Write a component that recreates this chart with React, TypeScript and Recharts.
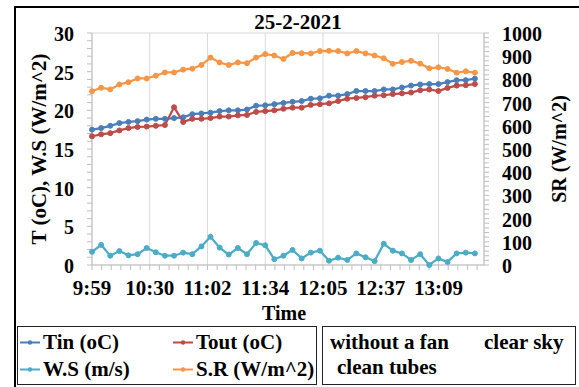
import { CartesianGrid, Legend, Line, LineChart, XAxis, YAxis } from "recharts";

const times = [
  "9:59", "10:04", "10:09", "10:14", "10:19", "10:24", "10:29", "10:34", "10:39", "10:44", "10:49",
  "10:54", "10:59", "11:04", "11:09", "11:14", "11:19", "11:24", "11:29", "11:34", "11:39", "11:44",
  "11:49", "11:54", "11:59", "12:04", "12:09", "12:14", "12:19", "12:24", "12:29", "12:34", "12:39",
  "12:44", "12:49", "12:54", "12:59", "13:04", "13:09", "13:14", "13:19", "13:24", "13:29"
];
const tinValues = [
  17.5, 17.7, 18.0, 18.35, 18.5, 18.6, 18.8, 18.9, 18.9, 19.0, 19.1, 19.5, 19.6, 19.7, 19.9, 20.0, 20.0,
  20.1, 20.6, 20.65, 20.8, 20.95, 21.1, 21.2, 21.5, 21.55, 21.9, 21.9, 22.1, 22.5, 22.5, 22.5, 22.7, 22.7,
  22.95, 23.2, 23.35, 23.4, 23.4, 23.65, 23.9, 23.9, 24.1
];
const toutValues = [
  16.65, 16.9, 17.05, 17.4, 17.7, 17.85, 17.9, 18.0, 18.1, 20.4, 18.5, 18.9, 18.9, 19.0, 19.2, 19.2, 19.35,
  19.4, 19.8, 19.9, 20.0, 20.2, 20.35, 20.35, 20.7, 20.8, 20.9, 21.2, 21.5, 21.6, 21.7, 21.9, 21.95, 22.1,
  22.2, 22.3, 22.6, 22.7, 22.5, 22.9, 23.2, 23.25, 23.4
];
const wsValues = [
  1.7, 2.6, 1.2, 1.8, 1.25, 1.4, 2.2, 1.65, 1.2, 1.2, 1.6, 1.4, 2.4, 3.65, 2.25, 1.35, 2.2, 1.4, 2.85, 2.55,
  0.75, 1.2, 1.95, 0.85, 1.6, 1.85, 0.55, 0.95, 0.65, 1.5, 1.0, 0.5, 2.75, 1.85, 1.5, 0.65, 1.4, 0.0, 0.85,
  0.4, 1.5, 1.6, 1.5
];
const srValues = [
  749, 764, 757, 778, 788, 804, 804, 816, 830, 830, 842, 846, 862, 894, 873, 862, 873, 870, 894, 909, 903,
  888, 914, 913, 912, 922, 923, 922, 912, 922, 912, 903, 891, 867, 875, 880, 868, 848, 852, 845, 829, 835, 829
];
const seriesNames = ["Tin (oC)", "Tout (oC)", "W.S (m/s)", "S.R (W/m^2)"];
const xTickLabels = ["9:59", "10:30", "11:02", "11:34", "12:05", "12:37", "13:09"];
const noteTexts = ["without a fan", "clear sky", "clean tubes"];

const FONT = '"Liberation Serif", "Times New Roman", serif';
const AXIS_GRAY = "#bfbfbf";
const X_MIN = 599;
const X_MAX = 814;
const X_MAJOR = 31.68;
const X_MINOR = X_MAJOR / 6;

const toMinutes = (s: string) => {
  const [h, m] = s.split(":").map(Number);
  return h * 60 + m;
};

const data = times.map((t, i) => ({
  t: toMinutes(t),
  tin: tinValues[i],
  tout: toutValues[i],
  ws: wsValues[i],
  sr: srValues[i]
}));

const xMajorTicks = xTickLabels.map((_, i) => X_MIN + i * X_MAJOR);
const xMinorTicks: number[] = [];
for (let k = 0; X_MIN + k * X_MINOR <= X_MAX; k++) xMinorTicks.push(X_MIN + k * X_MINOR);
const leftMinorTicks = Array.from({ length: 31 }, (_, i) => i);
const leftMajorTicks = [0, 5, 10, 15, 20, 25, 30];
const rightMinorTicks = Array.from({ length: 51 }, (_, i) => i * 20);

const labelStyle = { fontFamily: FONT, fontWeight: "bold" as const, fill: "#000", style: { fontFamily: FONT } };

const XTick = ({ x, y, payload }: any) => {
  const k = Math.round((payload.value - X_MIN) / X_MINOR);
  if (k % 6 !== 0) return <g />;
  return (
    <text x={x} y={y} dy={23} textAnchor="middle" fontSize={21} {...labelStyle}>
      {xTickLabels[k / 6]}
    </text>
  );
};

const LeftTick = ({ x, y, payload }: any) =>
  payload.value % 5 === 0 ? (
    <text x={x - 11} y={y} dy={8} textAnchor="end" fontSize={20} {...labelStyle}>
      {payload.value}
    </text>
  ) : (
    <g />
  );

const RightTick = ({ x, y, payload }: any) =>
  payload.value % 100 === 0 ? (
    <text x={x + 11} y={y} dy={8} textAnchor="start" fontSize={20} {...labelStyle}>
      {payload.value}
    </text>
  ) : (
    <g />
  );

const textBase = {
  position: "absolute" as const,
  fontFamily: FONT,
  fontWeight: "bold" as const,
  color: "#000",
  whiteSpace: "nowrap" as const,
  lineHeight: 1
};

function LegendPanel({ payload }: any) {
  const items = [...(payload || [])].sort(
    (a: any, b: any) => seriesNames.indexOf(a.value) - seriesNames.indexOf(b.value)
  );
  const cols = [2, 155];
  const rows = [15, 42];
  return (
    <div style={{ position: "relative", width: 560, height: 60 }}>
      <div style={{ position: "absolute", left: 0, top: 0, width: 298, height: 57, border: "1.5px solid #222" }}>
        {items.map((it: any, i: number) => (
          <div
            key={it.value}
            style={{ position: "absolute", left: cols[i % 2], top: rows[Math.floor(i / 2)], transform: "translateY(-50%)", display: "flex", alignItems: "center" }}
          >
            <svg width={20} height={8} style={{ marginRight: 3 }}>
              <line x1={0} y1={4} x2={20} y2={4} stroke={it.color} strokeWidth={2} />
              <circle cx={10} cy={4} r={2.2} fill={it.color} />
            </svg>
            <span style={{ ...textBase, position: "static", fontSize: 21 }}>{it.value}</span>
          </div>
        ))}
      </div>
      <div style={{ position: "absolute", left: 305, top: 0, width: 252, height: 57, border: "1.5px solid #222" }}>
        <span style={{ ...textBase, left: 7, top: 15, transform: "translateY(-50%)", fontSize: 21 }}>{noteTexts[0]}</span>
        <span style={{ ...textBase, left: 161, top: 15, transform: "translateY(-50%)", fontSize: 21 }}>{noteTexts[1]}</span>
        <span style={{ ...textBase, left: 14, top: 40, transform: "translateY(-50%)", fontSize: 21 }}>{noteTexts[2]}</span>
      </div>
    </div>
  );
}

export default function App() {
  return (
    <div style={{ position: "absolute", left: 0, top: 0, width: 579, height: 387, overflow: "hidden", background: "#fff" }}>
      <div style={{ position: "absolute", left: 14, top: 6, width: 620, height: 420, borderLeft: "2px solid #000", borderTop: "2px solid #000" }} />
      <div style={{ position: "absolute", left: 0, top: 0 }}>
        <LineChart width={579} height={387} data={data} margin={{ top: 33, right: 0, bottom: 82, left: 0 }}>
          <XAxis xAxisId="xg" dataKey="t" type="number" domain={[X_MIN, X_MAX]} ticks={xMajorTicks} hide />
          <YAxis yAxisId="yg" type="number" domain={[0, 30]} ticks={leftMajorTicks} hide />
          <CartesianGrid xAxisId="xg" yAxisId="yg" stroke="#d9d9d9" strokeWidth={1} />
          <XAxis
            xAxisId="x"
            dataKey="t"
            type="number"
            domain={[X_MIN, X_MAX]}
            ticks={xMinorTicks}
            interval={0}
            height={40}
            tickSize={5}
            tick={<XTick />}
            axisLine={{ stroke: AXIS_GRAY }}
            tickLine={{ stroke: AXIS_GRAY }}
          />
          <YAxis
            yAxisId="left"
            type="number"
            domain={[0, 30]}
            ticks={leftMinorTicks}
            interval={0}
            width={92}
            tickSize={5}
            tick={<LeftTick />}
            axisLine={{ stroke: AXIS_GRAY }}
            tickLine={{ stroke: AXIS_GRAY }}
          />
          <YAxis
            yAxisId="right"
            orientation="right"
            type="number"
            domain={[0, 1000]}
            ticks={rightMinorTicks}
            interval={0}
            width={95}
            tickSize={5}
            tick={<RightTick />}
            axisLine={{ stroke: AXIS_GRAY }}
            tickLine={{ stroke: AXIS_GRAY }}
          />
          <Line xAxisId="x" yAxisId="left" name={seriesNames[0]} dataKey="tin" stroke="#4a7ebb" strokeWidth={2.25}
            dot={{ r: 2.5, fill: "#4a7ebb", stroke: "#4a7ebb", strokeWidth: 1 }} activeDot={false} isAnimationActive={false} />
          <Line xAxisId="x" yAxisId="left" name={seriesNames[1]} dataKey="tout" stroke="#be4b48" strokeWidth={2.25}
            dot={{ r: 2.5, fill: "#be4b48", stroke: "#be4b48", strokeWidth: 1 }} activeDot={false} isAnimationActive={false} />
          <Line xAxisId="x" yAxisId="left" name={seriesNames[2]} dataKey="ws" stroke="#4bacc6" strokeWidth={2.25}
            dot={{ r: 2.5, fill: "#4bacc6", stroke: "#4bacc6", strokeWidth: 1 }} activeDot={false} isAnimationActive={false} />
          <Line xAxisId="x" yAxisId="right" name={seriesNames[3]} dataKey="sr" stroke="#f79646" strokeWidth={2.25}
            dot={{ r: 2.5, fill: "#f79646", stroke: "#f79646", strokeWidth: 1 }} activeDot={false} isAnimationActive={false} />
          <Legend
            verticalAlign="middle"
            layout="horizontal"
            wrapperStyle={{ left: 17, top: 326, width: 560, height: 60 }}
            content={(props: any) => <LegendPanel payload={props.payload} />}
          />
        </LineChart>
      </div>
      <div style={{ ...textBase, left: 298, top: 22, transform: "translate(-50%, -50%)", fontSize: 21 }}>25-2-2021</div>
      <div style={{ ...textBase, left: 284, top: 313, transform: "translate(-50%, -50%)", fontSize: 20 }}>Time</div>
      <div style={{ ...textBase, left: 39, top: 149, transform: "translate(-50%, -50%) rotate(-90deg)", fontSize: 21 }}>
        T (oC), W.S (W/m^2)
      </div>
      <div style={{ ...textBase, left: 559, top: 149, transform: "translate(-50%, -50%) rotate(-90deg)", fontSize: 20 }}>
        SR (W/m^2)
      </div>
    </div>
  );
}
